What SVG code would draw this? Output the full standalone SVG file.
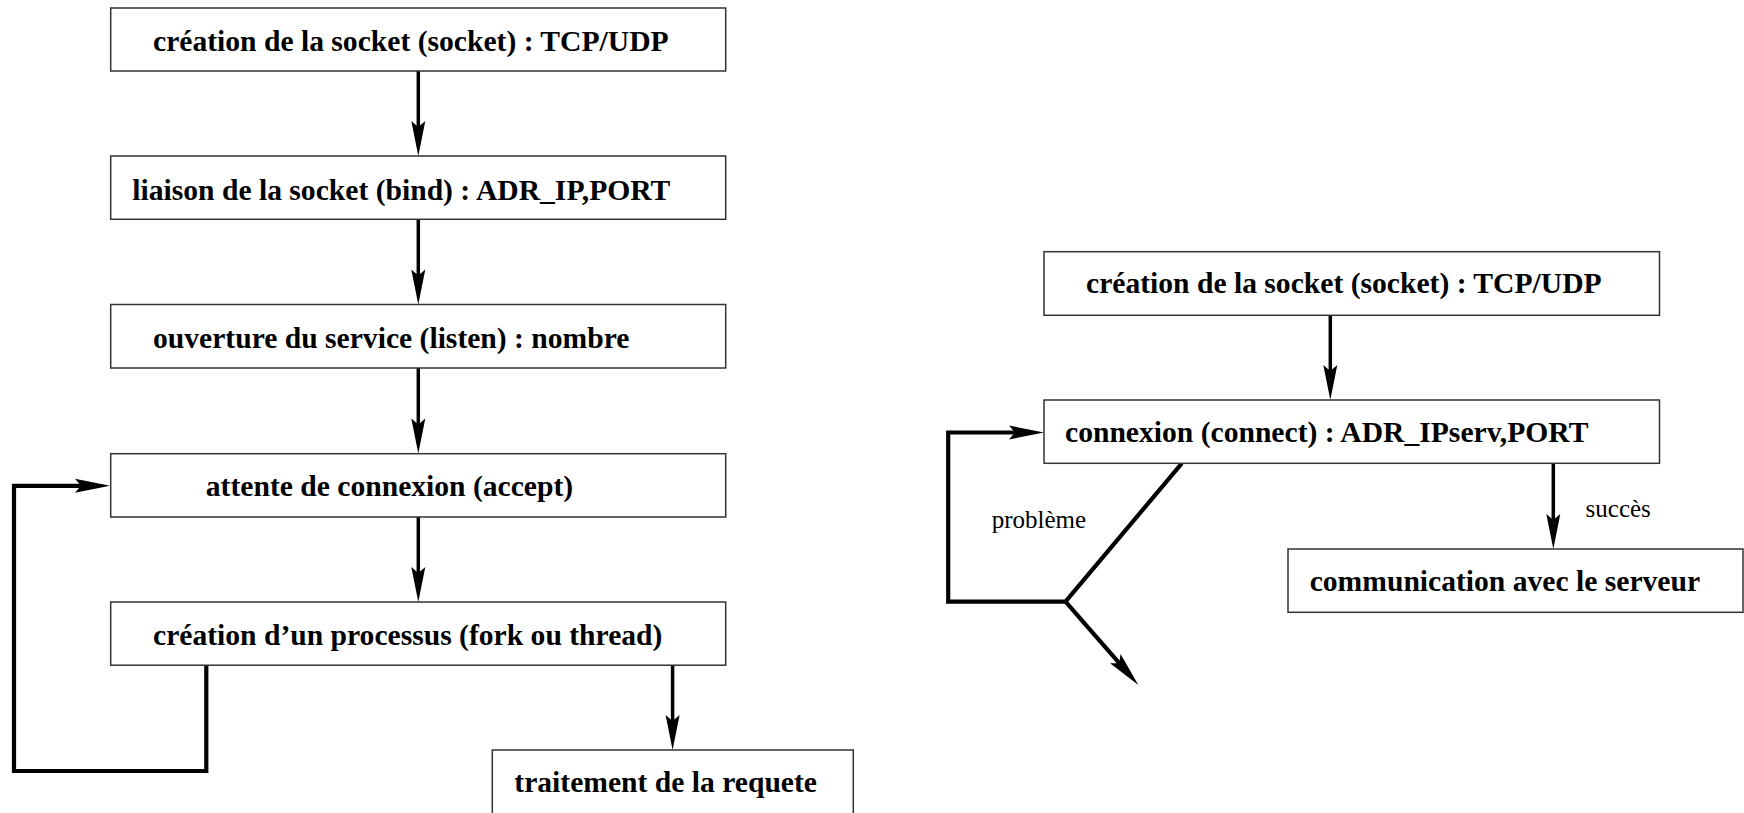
<svg xmlns="http://www.w3.org/2000/svg" width="1744" height="813" viewBox="0 0 1744 813">
<style>
.box{fill:#fff;stroke:#333;stroke-width:1.5}
.lbl{font-family:"Liberation Serif","Times New Roman",serif;font-weight:bold;font-size:29.6px;fill:#000}
.note{font-family:"Liberation Serif","Times New Roman",serif;font-size:25px;fill:#000}
.arr{fill:none;stroke:#000;stroke-width:3.5;stroke-linejoin:miter}
.loop{fill:none;stroke:#000;stroke-width:4.2;stroke-linejoin:miter}
</style>
<defs>
<marker id="ah" markerUnits="userSpaceOnUse" viewBox="-12 -9 40 18" refX="0" refY="0" markerWidth="40" markerHeight="18" orient="auto" overflow="visible">
<path d="M25,0 L-10,-7 L-4,0 L-10,7 Z" fill="#000"/>
</marker>
</defs>
<rect width="1744" height="813" fill="#fff"/>
<g id="connectors">
<path class="arr" d="M418.3,71 V131" marker-end="url(#ah)"/>
<path class="arr" d="M418.3,219.5 V279.5" marker-end="url(#ah)"/>
<path class="arr" d="M418.3,368 V428.5" marker-end="url(#ah)"/>
<path class="arr" d="M418.3,517 V577" marker-end="url(#ah)"/>
<path class="arr" d="M672.6,665 V725" marker-end="url(#ah)"/>
<path class="loop" d="M206.3,665 V771 H14 V485.8 H85" marker-end="url(#ah)"/>
<path class="arr" d="M1330.3,315.3 V375" marker-end="url(#ah)"/>
<path class="arr" d="M1553.3,463.3 V524" marker-end="url(#ah)"/>
<path class="loop" d="M1181.8,463.3 L1065.5,601.7 H948.2 V432.5 H1019" marker-end="url(#ah)"/>
<path class="loop" d="M1065.5,601.7 L1121.9,666.2" marker-end="url(#ah)"/>
</g>
<g id="n1"><rect class="box" x="110.7" y="8" width="615" height="63"/><text class="lbl" x="153" y="50.5">création de la socket (socket) : TCP/UDP</text></g>
<g id="n2"><rect class="box" x="110.7" y="156" width="615" height="63.3"/><text class="lbl" x="132.3" y="199.5">liaison de la socket (bind) : ADR_IP,PORT</text></g>
<g id="n3"><rect class="box" x="110.7" y="304.5" width="615" height="63.5"/><text class="lbl" x="153" y="347.5">ouverture du service (listen) : nombre</text></g>
<g id="n4"><rect class="box" x="110.7" y="453.7" width="615" height="63.3"/><text class="lbl" x="205.8" y="496.2">attente de connexion (accept)</text></g>
<g id="n5"><rect class="box" x="110.7" y="602" width="615" height="63.2"/><text class="lbl" x="153" y="644.5">création d’un processus (fork ou thread)</text></g>
<g id="n6"><rect class="box" x="492.3" y="750" width="361" height="80"/><text class="lbl" x="514.3" y="791.7">traitement de la requete</text></g>
<g id="r1"><rect class="box" x="1044" y="251.7" width="615.5" height="63.6"/><text class="lbl" x="1086" y="293.3">création de la socket (socket) : TCP/UDP</text></g>
<g id="r2"><rect class="box" x="1044" y="400" width="615.5" height="63.3"/><text class="lbl" x="1065" y="441.7">connexion (connect) : ADR_IPserv,PORT</text></g>
<g id="r3"><rect class="box" x="1288" y="549" width="455" height="63.3"/><text class="lbl" x="1309.7" y="590.5">communication avec le serveur</text></g>
<g id="labels">
<text class="note" x="991.7" y="528.3">problème</text>
<text class="note" x="1585.6" y="517">succès</text>
</g>
</svg>
